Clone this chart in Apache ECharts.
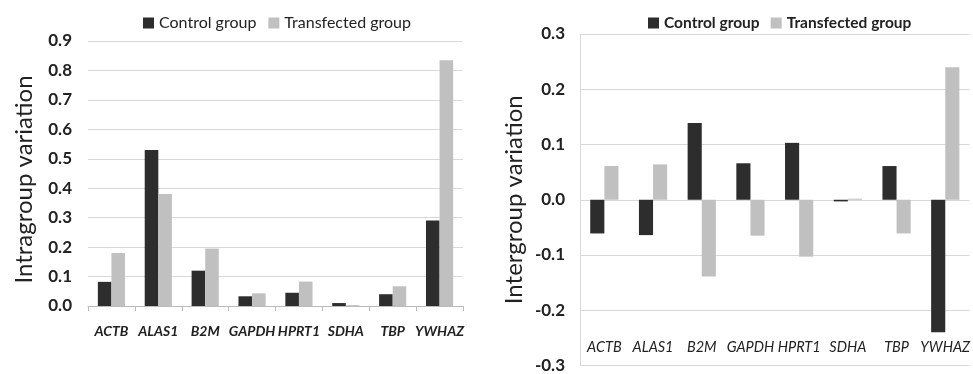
<!DOCTYPE html>
<html><head><meta charset="utf-8">
<script src="https://cdn.jsdelivr.net/npm/echarts@6/dist/echarts.min.js"></script>
<style>html,body{margin:0;padding:0;background:#fff}#c{width:973px;height:374px}</style>
</head><body><div id="c"></div>
<script>
const categories = ['ACTB','ALAS1','B2M','GAPDH','HPRT1','SDHA','TBP','YWHAZ'];
const seriesNames = ['Control group','Transfected group'];
const intraControl = [0.082, 0.53, 0.12, 0.033, 0.045, 0.01, 0.04, 0.29];
const intraTransfected = [0.18, 0.38, 0.195, 0.043, 0.083, 0.003, 0.067, 0.835];
const interControl = [-0.061, -0.064, 0.139, 0.066, 0.103, -0.003, 0.061, -0.24];
const interTransfected = [0.061, 0.064, -0.139, -0.065, -0.103, 0.002, -0.061, 0.24];

const FONT = 'Lato';
const dark = '#2d2d2d', light = '#c0c0c0', gridC = '#d9d9d9';
const chart = echarts.init(document.getElementById('c'));
chart.setOption({
  animation: false,
  textStyle: {fontFamily: FONT},
  legend: [
    {left: 138, top: 10, itemWidth: 11, itemHeight: 11, itemGap: 12, icon: 'rect',
     data: seriesNames, textStyle: {fontFamily: FONT, fontSize: 16, color: '#222'}},
    {left: 643, top: 10, itemWidth: 11, itemHeight: 11, itemGap: 11, icon: 'rect',
     data: seriesNames, textStyle: {fontFamily: FONT, fontSize: 15.5, fontWeight: 'bold', color: '#222'}}
  ],
  grid: [
    {left: 88, right: 510, top: 41, bottom: 68},
    {left: 580, right: 1, top: 34, bottom: 7}
  ],
  xAxis: [
    {type: 'category', gridIndex: 0, data: categories,
     axisLine: {lineStyle: {color: '#bbb'}},
     axisTick: {show: true, length: 5, lineStyle: {color: '#bbb'}},
     axisLabel: {margin: 18, fontFamily: FONT, fontSize: 14, fontStyle: 'italic', fontWeight: 'bold', color: '#222', interval: 0}},
    {type: 'category', gridIndex: 1, data: categories,
     axisLine: {show: false, onZero: false},
     axisTick: {show: false},
     axisLabel: {inside: true, margin: 11, fontFamily: FONT, fontSize: 14.5, fontStyle: 'italic', color: '#222', interval: 0}}
  ],
  yAxis: [
    {type: 'value', gridIndex: 0, min: 0, max: 0.9, interval: 0.1,
     name: 'Intragroup variation', nameLocation: 'middle', nameGap: 52,
     nameTextStyle: {fontFamily: FONT, fontSize: 24, color: '#222', padding: [0, 12, 0, 0]},
     axisLine: {show: false}, axisTick: {show: false},
     splitLine: {lineStyle: {color: gridC}},
     axisLabel: {margin: 16, fontFamily: FONT, fontSize: 17, fontWeight: 'bold', color: '#222',
       formatter: v => v.toFixed(1)}},
    {type: 'value', gridIndex: 1, min: -0.3, max: 0.3, interval: 0.1,
     name: 'Intergroup variation', nameLocation: 'middle', nameGap: 54,
     nameTextStyle: {fontFamily: FONT, fontSize: 24, color: '#222'},
     axisLine: {show: true, lineStyle: {color: gridC}}, axisTick: {show: false},
     splitLine: {lineStyle: {color: gridC}},
     axisLabel: {margin: 15, fontFamily: FONT, fontSize: 17, fontWeight: 'bold', color: '#222',
       formatter: v => (Math.abs(v) < 1e-9 ? 0 : v).toFixed(1)}}
  ],
  series: [
    {name: seriesNames[0], type: 'bar', xAxisIndex: 0, yAxisIndex: 0, data: intraControl,
     itemStyle: {color: dark}, barGap: '0%', barCategoryGap: '42%'},
    {name: seriesNames[1], type: 'bar', xAxisIndex: 0, yAxisIndex: 0, data: intraTransfected,
     itemStyle: {color: light}, barGap: '0%', barCategoryGap: '42%'},
    {name: seriesNames[0], type: 'bar', xAxisIndex: 1, yAxisIndex: 1, data: interControl,
     itemStyle: {color: dark}, barGap: '0%', barCategoryGap: '42%'},
    {name: seriesNames[1], type: 'bar', xAxisIndex: 1, yAxisIndex: 1, data: interTransfected,
     itemStyle: {color: light}, barGap: '0%', barCategoryGap: '42%'}
  ]
});
</script></body></html>
